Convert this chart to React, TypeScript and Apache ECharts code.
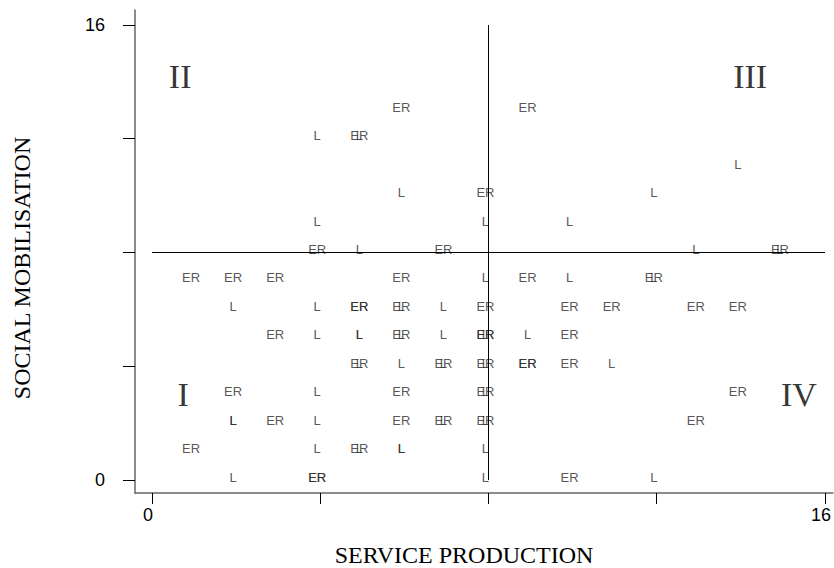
import React, { useEffect, useRef } from "react";
import * as echarts from "echarts";

// ER labelled observations (service production, social mobilisation)
const erX = [6, 9, 5, 8, 4, 7, 15, 1, 2, 3, 6, 9, 12, 5, 5, 6, 8, 10, 11, 13, 14, 3, 6, 8, 8, 10, 5, 7, 8, 9, 9, 10, 2, 6, 8, 14, 3, 6, 7, 8, 13, 1, 5, 4, 4, 10];
const erY = [13, 13, 12, 10, 8, 8, 8, 7, 7, 7, 7, 7, 7, 6, 6, 6, 6, 6, 6, 6, 6, 5, 5, 5, 5, 5, 4, 4, 4, 4, 4, 4, 3, 3, 3, 3, 2, 2, 2, 2, 2, 1, 1, 0, 0, 0];

// L labelled observations
const lX = [4, 5, 14, 6, 12, 4, 8, 10, 5, 13, 15, 8, 10, 12, 2, 4, 6, 7, 4, 5, 5, 6, 7, 8, 9, 5, 6, 7, 8, 11, 4, 8, 2, 2, 4, 7, 8, 4, 5, 6, 6, 8, 2, 8, 12];
const lY = [12, 12, 11, 10, 10, 9, 9, 9, 8, 8, 8, 7, 7, 7, 6, 6, 6, 6, 5, 5, 5, 5, 5, 5, 5, 4, 4, 4, 4, 4, 3, 3, 2, 2, 2, 2, 2, 1, 1, 1, 1, 1, 0, 0, 0];

const xTicks = [0, 4, 8, 12, 16];
const xTickLabels = [0, 16];
const yTicks = [0, 4, 8, 12, 16];
const yTickLabels = [0, 16];

const quadrantNames = ["II", "III", "I", "IV"];
const quadrantX = [0.67, 14.22, 0.74, 15.38];
const quadrantY = [14.2, 14.2, 3.0, 3.0];

const refX = 8;
const refY = 8;

const xTitle = "SERVICE PRODUCTION";
const yTitle = "SOCIAL MOBILISATION";

export default function App() {
  const ref = useRef<HTMLDivElement>(null);
  useEffect(() => {
    if (!ref.current) return;
    const chart = echarts.init(ref.current, undefined, { renderer: "svg" });
    const labelStyle = (txt: string) => ({
      show: true,
      position: "inside" as const,
      formatter: txt,
      color: "#2a2a2a",
      fontFamily: "Liberation Sans, Arial, sans-serif",
      fontSize: 13,
      offset: [-3, -3],
    });
    const hidden = { color: "rgba(0,0,0,0)" };
    chart.setOption({
      animation: false,
      grid: { left: 135, right: 0, top: 10, bottom: 75 },
      xAxis: {
        type: "value",
        min: -0.4036,
        max: 16.19,
        splitLine: { show: false },
        axisLine: { show: true, onZero: false, lineStyle: { color: "#666", width: 1.5 } },
        axisTick: { show: true, length: 11, customValues: xTicks, lineStyle: { color: "#000" } },
        axisLabel: {
          customValues: xTickLabels,
          margin: 13,
          color: "#000",
          fontSize: 18,
          fontFamily: "Liberation Sans, Arial, sans-serif",
          padding: [0, 8, 0, 0],
        },
      },
      yAxis: {
        type: "value",
        min: -0.457,
        max: 16.527,
        splitLine: { show: false },
        axisLine: { show: true, onZero: false, lineStyle: { color: "#666", width: 1.5 } },
        axisTick: { show: true, length: 12, customValues: yTicks, lineStyle: { color: "#000" } },
        axisLabel: {
          customValues: yTickLabels,
          margin: 30,
          color: "#000",
          fontSize: 18,
          fontFamily: "Liberation Sans, Arial, sans-serif",
          padding: [8, 0, 0, 0],
        },
      },
      graphic: [
        {
          type: "text",
          x: 464,
          y: 555,
          style: {
            text: xTitle,
            fill: "#000",
            font: "24px 'Liberation Serif', 'Times New Roman', serif",
            textAlign: "center",
            textVerticalAlign: "middle",
          },
        },
        {
          type: "text",
          x: 22,
          y: 268,
          rotation: Math.PI / 2,
          style: {
            text: yTitle,
            fill: "#000",
            font: "24px 'Liberation Serif', 'Times New Roman', serif",
            textAlign: "center",
            textVerticalAlign: "middle",
          },
        },
      ],
      series: [
        {
          type: "scatter",
          name: "ER",
          symbolSize: 1,
          itemStyle: hidden,
          data: erX.map((x, i) => [x, erY[i]]),
          label: labelStyle("ER"),
          markLine: {
            silent: true,
            symbol: "none",
            label: { show: false },
            lineStyle: { color: "#000", width: 1, type: "solid" },
            data: [
              [{ coord: [refX, 0] }, { coord: [refX, 16] }],
              [{ coord: [0, refY] }, { coord: [16, refY] }],
            ],
          },
        },
        {
          type: "scatter",
          name: "L",
          symbolSize: 1,
          itemStyle: hidden,
          data: lX.map((x, i) => [x, lY[i]]),
          label: labelStyle("L"),
        },
        {
          type: "scatter",
          name: "quadrants",
          symbolSize: 1,
          itemStyle: hidden,
          data: quadrantNames.map((n, i) => ({ value: [quadrantX[i], quadrantY[i]], name: n })),
          label: {
            show: true,
            position: "inside",
            formatter: "{b}",
            color: "#000",
            fontFamily: "Liberation Serif, Times New Roman, serif",
            fontSize: 34,
          },
        },
      ],
    });
    return () => chart.dispose();
  }, []);
  return <div ref={ref} style={{ width: 834, height: 568, position: "absolute", left: 0, top: 0 }} />;
}
